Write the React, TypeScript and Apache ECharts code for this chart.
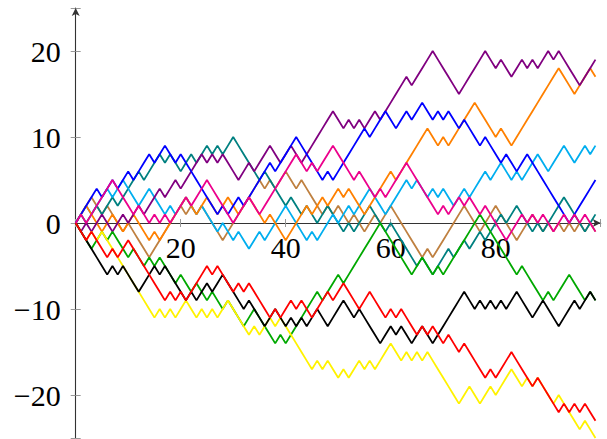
import React, { useEffect, useRef } from "react";
import * as echarts from "echarts";

// Random-walk values, x = 0..99
const blue = [0,1,2,3,4,3,4,5,4,5,6,5,6,7,8,7,8,9,8,7,8,7,6,5,4,3,2,1,2,1,2,3,2,3,4,5,6,7,6,7,8,9,10,9,8,7,6,5,6,5,6,7,8,9,10,11,10,11,12,13,12,11,12,13,12,13,14,13,12,13,12,13,12,11,12,11,10,9,10,9,8,7,8,7,6,7,8,7,6,5,4,3,2,1,0,1,2,3,4,5];
const red = [0,-1,-2,-1,-2,-3,-4,-3,-4,-3,-2,-3,-4,-5,-6,-7,-8,-9,-8,-9,-8,-9,-8,-7,-6,-5,-6,-5,-6,-7,-8,-7,-8,-7,-8,-9,-10,-11,-10,-11,-10,-9,-10,-9,-10,-11,-10,-9,-8,-9,-8,-7,-8,-9,-10,-9,-8,-9,-10,-11,-10,-11,-10,-11,-12,-13,-12,-13,-12,-13,-14,-13,-14,-15,-14,-15,-16,-17,-18,-17,-18,-17,-16,-15,-16,-17,-18,-19,-18,-19,-20,-21,-22,-21,-22,-21,-22,-21,-22,-23];
const black = [0,-1,-2,-3,-4,-5,-6,-5,-6,-5,-6,-7,-8,-7,-6,-5,-6,-5,-6,-7,-8,-9,-8,-9,-8,-7,-8,-7,-6,-7,-8,-9,-10,-9,-10,-11,-12,-11,-10,-11,-12,-11,-12,-11,-12,-11,-10,-11,-12,-11,-10,-9,-10,-11,-10,-11,-12,-13,-14,-13,-12,-13,-12,-13,-14,-13,-12,-13,-14,-13,-12,-11,-10,-9,-8,-9,-10,-9,-10,-9,-10,-9,-10,-9,-8,-9,-10,-11,-10,-9,-10,-11,-12,-11,-10,-9,-10,-9,-8,-9];
const yellow = [0,-1,-2,-1,-2,-1,-2,-3,-4,-5,-6,-7,-8,-9,-10,-11,-10,-11,-10,-11,-10,-9,-10,-11,-10,-11,-10,-11,-10,-9,-10,-11,-12,-13,-12,-13,-12,-11,-12,-11,-12,-13,-14,-15,-16,-17,-16,-17,-16,-17,-18,-17,-18,-17,-16,-17,-16,-17,-16,-15,-14,-15,-16,-15,-16,-15,-16,-15,-16,-17,-18,-19,-20,-21,-20,-19,-20,-21,-20,-19,-20,-19,-18,-17,-18,-19,-18,-19,-18,-19,-20,-21,-20,-21,-22,-23,-24,-23,-24,-25];
const green = [0,-1,-2,-3,-2,-1,-2,-1,-2,-3,-4,-3,-4,-5,-4,-5,-4,-5,-6,-7,-6,-7,-8,-7,-8,-9,-8,-9,-10,-9,-10,-11,-12,-11,-10,-11,-12,-13,-14,-13,-14,-13,-12,-11,-10,-9,-8,-9,-8,-7,-6,-7,-6,-5,-4,-3,-2,-1,0,-1,-2,-3,-4,-5,-6,-5,-4,-5,-6,-5,-6,-5,-4,-3,-2,-1,0,1,0,-1,-2,-3,-4,-5,-6,-5,-6,-7,-8,-9,-8,-9,-8,-7,-6,-7,-8,-9,-8,-9];
const purple = [0,-1,0,-1,0,1,0,-1,0,1,0,1,2,1,2,3,4,3,4,5,4,5,6,7,8,7,8,7,8,7,6,5,6,7,6,7,8,9,8,7,8,9,8,7,8,9,10,11,12,13,12,11,12,11,12,11,12,13,12,13,14,15,16,17,16,17,18,19,20,19,18,17,16,15,16,17,18,19,20,19,18,19,18,17,18,19,18,19,18,19,20,19,20,19,18,17,16,17,18,19];
const orange = [0,1,2,1,0,-1,0,1,0,-1,0,1,0,-1,-2,-1,-2,-1,0,1,2,3,2,1,2,3,2,1,2,3,2,1,2,3,2,1,0,1,0,-1,-2,-1,0,1,2,1,2,3,2,3,4,3,4,3,2,1,2,3,4,5,6,5,6,7,8,9,10,11,10,9,10,9,10,11,12,13,14,13,12,11,10,11,10,9,10,11,12,13,14,15,16,17,18,17,16,15,16,17,18,17];
const cyan = [0,1,2,1,2,3,4,3,4,5,4,3,2,3,4,3,2,1,2,1,2,3,2,1,2,1,0,-1,0,-1,-2,-1,-2,-3,-2,-1,-2,-1,0,1,2,1,0,-1,-2,-1,-2,-1,0,1,0,1,2,1,2,3,4,3,2,1,2,3,4,5,4,5,4,3,4,3,4,3,2,3,4,3,4,5,6,5,6,7,6,5,6,5,6,7,8,7,6,7,8,9,8,7,8,9,8,9];
const teal = [0,1,0,1,2,1,2,3,2,3,4,5,6,5,6,7,8,7,8,7,6,7,8,7,8,9,8,9,8,9,10,9,8,7,6,5,6,5,4,3,2,3,2,1,2,1,0,1,2,1,0,-1,0,-1,0,1,2,1,0,-1,0,-1,-2,-3,-4,-5,-4,-5,-6,-5,-4,-3,-4,-3,-2,-3,-2,-1,-2,-1,0,1,0,1,2,1,0,-1,0,-1,0,1,2,3,2,1,0,-1,0,1];
const brown = [0,1,2,3,2,1,2,1,0,-1,0,-1,-2,-3,-4,-3,-2,-1,0,1,2,1,2,1,2,1,0,-1,-2,-1,0,1,2,3,4,5,4,5,4,5,6,5,4,5,4,3,2,1,2,1,2,1,0,1,0,-1,0,1,0,1,2,1,0,-1,-2,-3,-4,-3,-4,-3,-2,-1,0,1,2,1,0,-1,0,1,2,1,0,-1,-2,-1,0,1,0,-1,0,-1,0,-1,0,-1,0,-1,0,-1];
const magenta = [0,1,0,1,2,3,4,5,4,3,2,1,2,1,0,1,0,1,0,1,2,3,2,3,4,5,4,3,2,1,0,1,2,3,2,1,2,3,4,5,6,7,8,7,6,7,6,7,8,9,8,7,6,5,6,5,4,3,4,3,4,5,6,7,6,5,4,3,2,1,2,1,2,3,2,3,2,1,2,1,0,-1,-2,-1,0,1,0,1,0,1,0,-1,0,1,0,1,0,1,0,-1];

const seriesList: [string, number[], string][] = [
  ["brown", brown, "#bf8040"],
  ["teal", teal, "#008080"],
  ["cyan", cyan, "#00aeef"],
  ["orange", orange, "#ff8000"],
  ["purple", purple, "#800080"],
  ["blue", blue, "#0000ff"],
  ["green", green, "#00a800"],
  ["yellow", yellow, "#fff200"],
  ["black", black, "#000000"],
  ["red", red, "#ff0000"],
  ["magenta", magenta, "#ec008c"],
];

const xTicks = [20, 40, 60, 80];
const yTicks = [-20, -10, 0, 10, 20];

const fmt = (v: number) => (v < 0 ? "\u2212" + Math.abs(v) : String(v));

export default function App() {
  const ref = useRef<HTMLDivElement>(null);
  useEffect(() => {
    if (!ref.current) return;
    const chart = echarts.init(ref.current, undefined, { renderer: "svg" });
    const labelFont = { fontFamily: "Liberation Serif", fontSize: 30, color: "#000" };
    const L = 75.7;
    const R = 6.3;
    const T = 8;
    chart.setOption({
      animation: false,
      backgroundColor: "#fff",
      grid: [
        // plotting area: y from -25 to 25
        { left: L, right: R, top: T, bottom: 1, containLabel: false, outerBoundsMode: "none" },
        // upper half, whose bottom edge is y = 0, carries the x axis
        { left: L, right: R, top: T, height: 215, containLabel: false, outerBoundsMode: "none" },
      ],
      xAxis: [
        { type: "value", gridIndex: 0, min: 0, max: 100, show: false },
        {
          type: "value",
          gridIndex: 1,
          min: 0,
          max: 100,
          interval: 20,
          position: "bottom",
          axisLine: {
            onZero: false,
            lineStyle: { color: "#333", width: 1.1 },
            symbol: ["none", "arrow"],
            symbolSize: [6, 8],
          },
          axisTick: { length: 4, lineStyle: { color: "#999", width: 1 } },
          axisLabel: {
            ...labelFont,
            margin: 9,
            formatter: (v: number) => (xTicks.includes(v) ? fmt(v) : ""),
          },
          splitLine: { show: false },
          z: 1,
        },
        {
          type: "value",
          gridIndex: 1,
          min: 0,
          max: 100,
          interval: 20,
          position: "bottom",
          axisLine: { show: false, onZero: false },
          axisTick: { inside: true, length: 4, lineStyle: { color: "#999", width: 1 } },
          axisLabel: { show: false },
          splitLine: { show: false },
          z: 1,
        },
      ],
      yAxis: [
        {
          type: "value",
          gridIndex: 0,
          min: -25,
          max: 25,
          splitNumber: 5,
          position: "left",
          axisLine: {
            onZero: false,
            lineStyle: { color: "#333", width: 1.1 },
            symbol: ["none", "arrow"],
            symbolSize: [6, 8],
          },
          axisTick: { length: 5, lineStyle: { color: "#999", width: 1 } },
          axisLabel: {
            ...labelFont,
            margin: 15,
            formatter: (v: number) => (yTicks.includes(v) ? fmt(v) : ""),
          },
          splitLine: { show: false },
        },
        {
          type: "value",
          gridIndex: 0,
          min: -25,
          max: 25,
          splitNumber: 5,
          position: "left",
          axisLine: { show: false, onZero: false },
          axisTick: { inside: true, length: 5, lineStyle: { color: "#999", width: 1 } },
          axisLabel: { show: false },
          splitLine: { show: false },
        },
        { type: "value", gridIndex: 1, min: 0, max: 1, show: false },
      ],
      series: seriesList.map(([name, vals, color]) => ({
        name,
        type: "line",
        xAxisIndex: 0,
        yAxisIndex: 0,
        data: vals.map((v, i) => [i, v]),
        showSymbol: false,
        symbol: "none",
        silent: true,
        lineStyle: { color, width: 1.8 },
        itemStyle: { color },
        z: 3,
      })),
    });
    return () => chart.dispose();
  }, []);
  return (
    <div
      ref={ref}
      style={{ position: "absolute", left: 0, top: 0, width: 607, height: 439 }}
    />
  );
}
